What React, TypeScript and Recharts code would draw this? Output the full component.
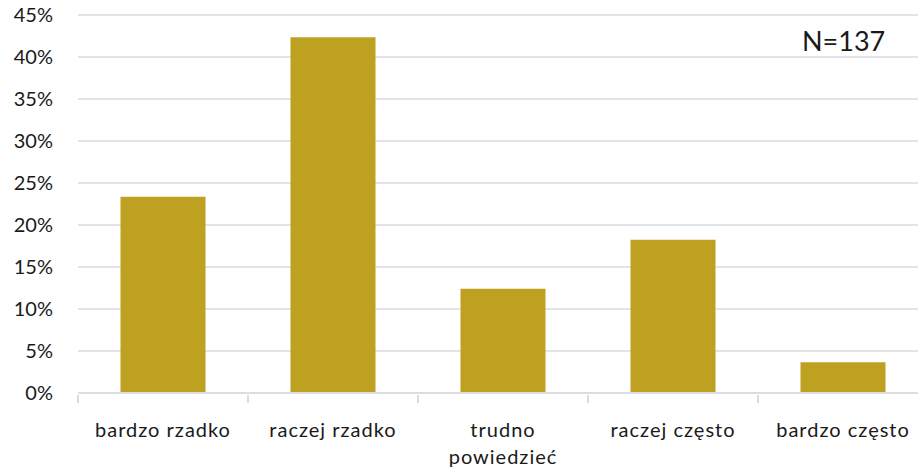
import { BarChart, Bar, XAxis, YAxis, CartesianGrid } from "recharts"

const categories = ["bardzo rzadko", "raczej rzadko", "trudno powiedzieć", "raczej często", "bardzo często"]
const shares = [23.36, 42.34, 12.41, 18.25, 3.65]
const yTicks = [0, 5, 10, 15, 20, 25, 30, 35, 40, 45]
const sampleLabel = "N=137"

const chartData = categories.map((name, i) => ({ name, value: shares[i] }))

const FONT = "Lato, 'Open Sans', sans-serif"
const AXIS_GREY = "#d9dde3"

function CategoryTick(props: any) {
  const { x, y, payload, index } = props
  const half = payload?.offset ?? 85
  const label: string = payload.value
  const lines = label.length > 15 ? label.split(" ") : [label]
  return (
    <g>
      <line x1={x - half} y1={y - 8} x2={x - half} y2={y} stroke={AXIS_GREY} strokeWidth={2} />
      {index === categories.length - 1 && (
        <line x1={x + half} y1={y - 8} x2={x + half} y2={y} stroke={AXIS_GREY} strokeWidth={2} />
      )}
      <text x={x} y={y} textAnchor="middle" fontFamily={FONT} fontSize={20} fill="#1a1a1a" letterSpacing={1}>
        {lines.map((l, i) => (
          <tspan key={i} x={x} dy={i === 0 ? 34 : 27}>
            {l}
          </tspan>
        ))}
      </text>
    </g>
  )
}

export default function App() {
  return (
    <div style={{ position: "fixed", left: 0, top: 0, width: 918, height: 469, overflow: "hidden", background: "#fff" }}>
      <BarChart
        width={928}
        height={469}
        data={chartData}
        margin={{ top: 15, right: 0, bottom: 0, left: 0 }}
        barCategoryGap="25%"
      >
        <CartesianGrid vertical={false} stroke="#e1e4ea" strokeWidth={2} />
        <XAxis
          dataKey="name"
          height={76}
          interval={0}
          axisLine={{ stroke: AXIS_GREY, strokeWidth: 2 }}
          tickLine={false}
          tickSize={8}
          tick={<CategoryTick />}
        />
        <YAxis
          width={78}
          domain={[0, 45]}
          ticks={yTicks}
          interval={0}
          axisLine={false}
          tickLine={false}
          tickSize={0}
          tickMargin={25}
          tickFormatter={(v: number) => `${v}%`}
          tick={{ fontFamily: FONT, fontSize: 20, fill: "#1a1a1a" }}
        />
        <Bar dataKey="value" fill="#bfa122" isAnimationActive={false} />
      </BarChart>
      <div
        style={{
          position: "absolute",
          left: 802,
          top: 24,
          fontFamily: FONT,
          fontSize: 27,
          color: "#1a1a1a",
          lineHeight: "34px",
        }}
      >
        {sampleLabel}
      </div>
    </div>
  )
}
